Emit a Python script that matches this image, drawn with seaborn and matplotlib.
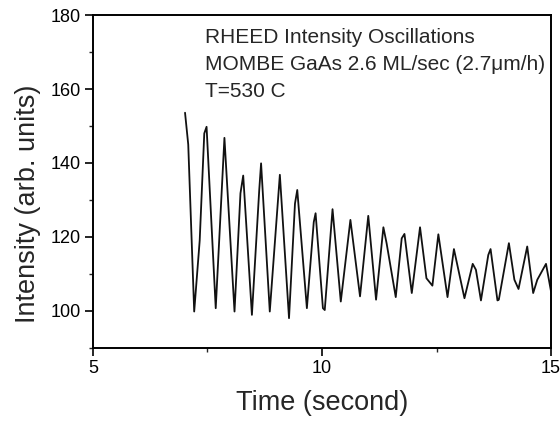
import matplotlib
matplotlib.use("Agg")
import matplotlib.pyplot as plt
import seaborn as sns
import pandas as pd
from matplotlib.ticker import MultipleLocator

time_s = [7.01, 7.08, 7.21, 7.33, 7.43, 7.48, 7.68, 7.87, 8.09, 8.22, 8.28, 8.47,
          8.63, 8.67, 8.86, 9.08, 9.28, 9.41, 9.46, 9.67, 9.82, 9.86, 10.02, 10.06,
          10.23, 10.41, 10.62, 10.83, 11.01, 11.18, 11.34, 11.41, 11.61, 11.74, 11.80,
          11.96, 12.14, 12.28, 12.41, 12.54, 12.74, 12.88, 13.11, 13.29, 13.36, 13.47,
          13.63, 13.68, 13.83, 13.86, 14.08, 14.2, 14.29, 14.48, 14.61, 14.70, 14.89, 15.0]
intensity = [153.6, 145.0, 99.8, 119.0, 148.0, 149.8, 100.7, 146.8, 99.8, 131.8, 136.6, 98.9,
             132.7, 139.9, 99.8, 136.8, 98.0, 129.0, 132.7, 100.7, 124.0, 126.4, 100.7, 100.2,
             127.5, 102.5, 124.6, 103.9, 125.7, 103.0, 122.6, 118.3, 103.7, 119.6, 120.8,
             104.8, 122.6, 108.8, 106.8, 120.7, 103.7, 116.7, 103.4, 112.7, 111.1, 102.8,
             115.1, 116.7, 102.8, 103.0, 118.3, 108.4, 105.9, 117.4, 104.8, 108.4, 112.7, 105.2]

annotation_lines = ["RHEED Intensity Oscillations",
                    "MOMBE GaAs 2.6 ML/sec (2.7\u03bcm/h)",
                    "T=530 C"]

sns.set_style("ticks")
plt.rcParams["font.family"] = ["Liberation Sans", "DejaVu Sans"]

df = pd.DataFrame({"Time": time_s, "Intensity": intensity})

fig = plt.figure(figsize=(5.6, 4.22), dpi=100)
ax = fig.add_axes([0.166, 0.176, 0.818, 0.788])
sns.lineplot(data=df, x="Time", y="Intensity", ax=ax, color="#111111", linewidth=1.3)

ax.set_xlim(5, 15)
ax.set_ylim(90, 180)
ax.xaxis.set_major_locator(MultipleLocator(5))
ax.xaxis.set_minor_locator(MultipleLocator(2.5))
ax.yaxis.set_minor_locator(MultipleLocator(10))
ax.set_yticks([100, 120, 140, 160, 180])
ax.tick_params(axis="both", which="major", direction="out", length=5.5, width=1.2,
               labelsize=13, colors="black", pad=3)
ax.tick_params(axis="both", which="minor", direction="out", length=3, width=1.0)
for s in ax.spines.values():
    s.set_visible(True)
    s.set_linewidth(1.4)
    s.set_color("black")

ax.set_xlabel("Time (second)", fontsize=19.5, labelpad=10)
ax.set_ylabel("Intensity (arb. units)", fontsize=19.5)
ax.yaxis.set_label_coords(-0.113, 0.434)

ax.text(0.245, 0.962, "\n".join(annotation_lines), transform=ax.transAxes,
        fontsize=15, va="top", ha="left", linespacing=1.53)

fig.savefig("out.png", dpi=100)
